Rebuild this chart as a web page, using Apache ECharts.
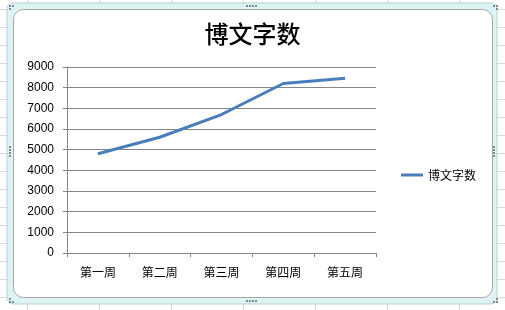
<!DOCTYPE html>
<html><head><meta charset="utf-8">
<script src="https://cdn.jsdelivr.net/npm/echarts@6/dist/echarts.min.js"></script>
<style>html,body{margin:0;padding:0;background:#fff}#c{width:505px;height:310px}</style>
</head><body><div id="c"></div>
<script>
const categories = ['第一周', '第二周', '第三周', '第四周', '第五周'];
const wordCounts = [4800, 5600, 6700, 8200, 8450];
const seriesName = '博文字数';
const titleText = '博文字数';

const chart = echarts.init(document.getElementById('c'), null, {renderer: 'canvas'});

// spreadsheet background decoration
const bg = [];
for (let x = 27; x < 505; x += 72) bg.push({type: 'line', shape: {x1: x + 0.5, y1: 0, x2: x + 0.5, y2: 310}, style: {stroke: '#d4dde4', lineWidth: 1}, z: -10});
for (let y = 9; y < 310; y += 18) bg.push({type: 'line', shape: {x1: 0, y1: y + 0.5, x2: 505, y2: y + 0.5}, style: {stroke: '#d4dde4', lineWidth: 1}, z: -10});
bg.push({type: 'rect', shape: {x: 7, y: 3, width: 490, height: 301, r: 6}, style: {fill: '#def3f3', stroke: '#b9cfd2', lineWidth: 1}, z: -9});
bg.push({type: 'rect', shape: {x: 13.5, y: 9.5, width: 479, height: 288, r: 10}, style: {fill: '#ffffff', stroke: '#a6a6a6', lineWidth: 1}, z: -8});
// handles
const dots = (cx, cy, horiz) => {
  for (let i = 0; i < 4; i++) {
    bg.push({type: 'rect', shape: horiz ? {x: cx + i * 3, y: cy, width: 2, height: 2} : {x: cx, y: cy + i * 3, width: 2, height: 2}, style: {fill: '#7f8a90'}, z: -7});
  }
};
dots(246, 5, true); dots(246, 300, true); dots(9, 146, false); dots(493, 146, false);
[[9,5],[12,5],[9,8],[493,5],[496,5],[496,8],[9,301],[9,298],[12,301],[496,301],[493,301],[496,298]].forEach(p => bg.push({type:'rect', shape:{x:p[0], y:p[1], width:2, height:2}, style:{fill:'#7f8a90'}, z:-7}));

chart.setOption({
  animation: false,
  title: {
    text: titleText, left: 'center', top: 17,
    textStyle: {fontFamily: 'Noto Sans CJK SC', fontSize: 24, fontWeight: 500, color: '#000'}
  },
  legend: {
    left: 396, top: 164, orient: 'vertical',
    icon: 'rect', itemWidth: 22, itemHeight: 3, itemGap: 6,
    textStyle: {fontFamily: 'Noto Sans CJK SC', fontSize: 12, color: '#000'},
    data: [seriesName]
  },
  grid: {left: 67, right: 129, top: 67, bottom: 57, containLabel: false},
  xAxis: {
    type: 'category', data: categories, boundaryGap: true,
    axisLine: {lineStyle: {color: '#868686', width: 1}},
    axisTick: {show: true, length: 4, alignWithLabel: false, lineStyle: {color: '#868686'}},
    axisLabel: {margin: 13, fontFamily: 'Noto Sans CJK SC', fontSize: 12, color: '#000'}
  },
  yAxis: {
    type: 'value', min: 0, max: 9000, interval: 1000,
    axisLine: {show: true, lineStyle: {color: '#868686', width: 1}},
    axisTick: {show: true, length: 4, lineStyle: {color: '#868686'}},
    splitLine: {lineStyle: {color: '#868686', width: 1}},
    axisLabel: {margin: 13, fontFamily: 'Liberation Sans', fontSize: 12, color: '#000', formatter: v => String(v)}
  },
  series: [{
    name: seriesName, type: 'line', data: wordCounts,
    showSymbol: false, symbol: 'none',
    lineStyle: {color: '#4a7ebb', width: 3},
    itemStyle: {color: '#4a7ebb'}
  }],
  graphic: bg
});
</script></body></html>
